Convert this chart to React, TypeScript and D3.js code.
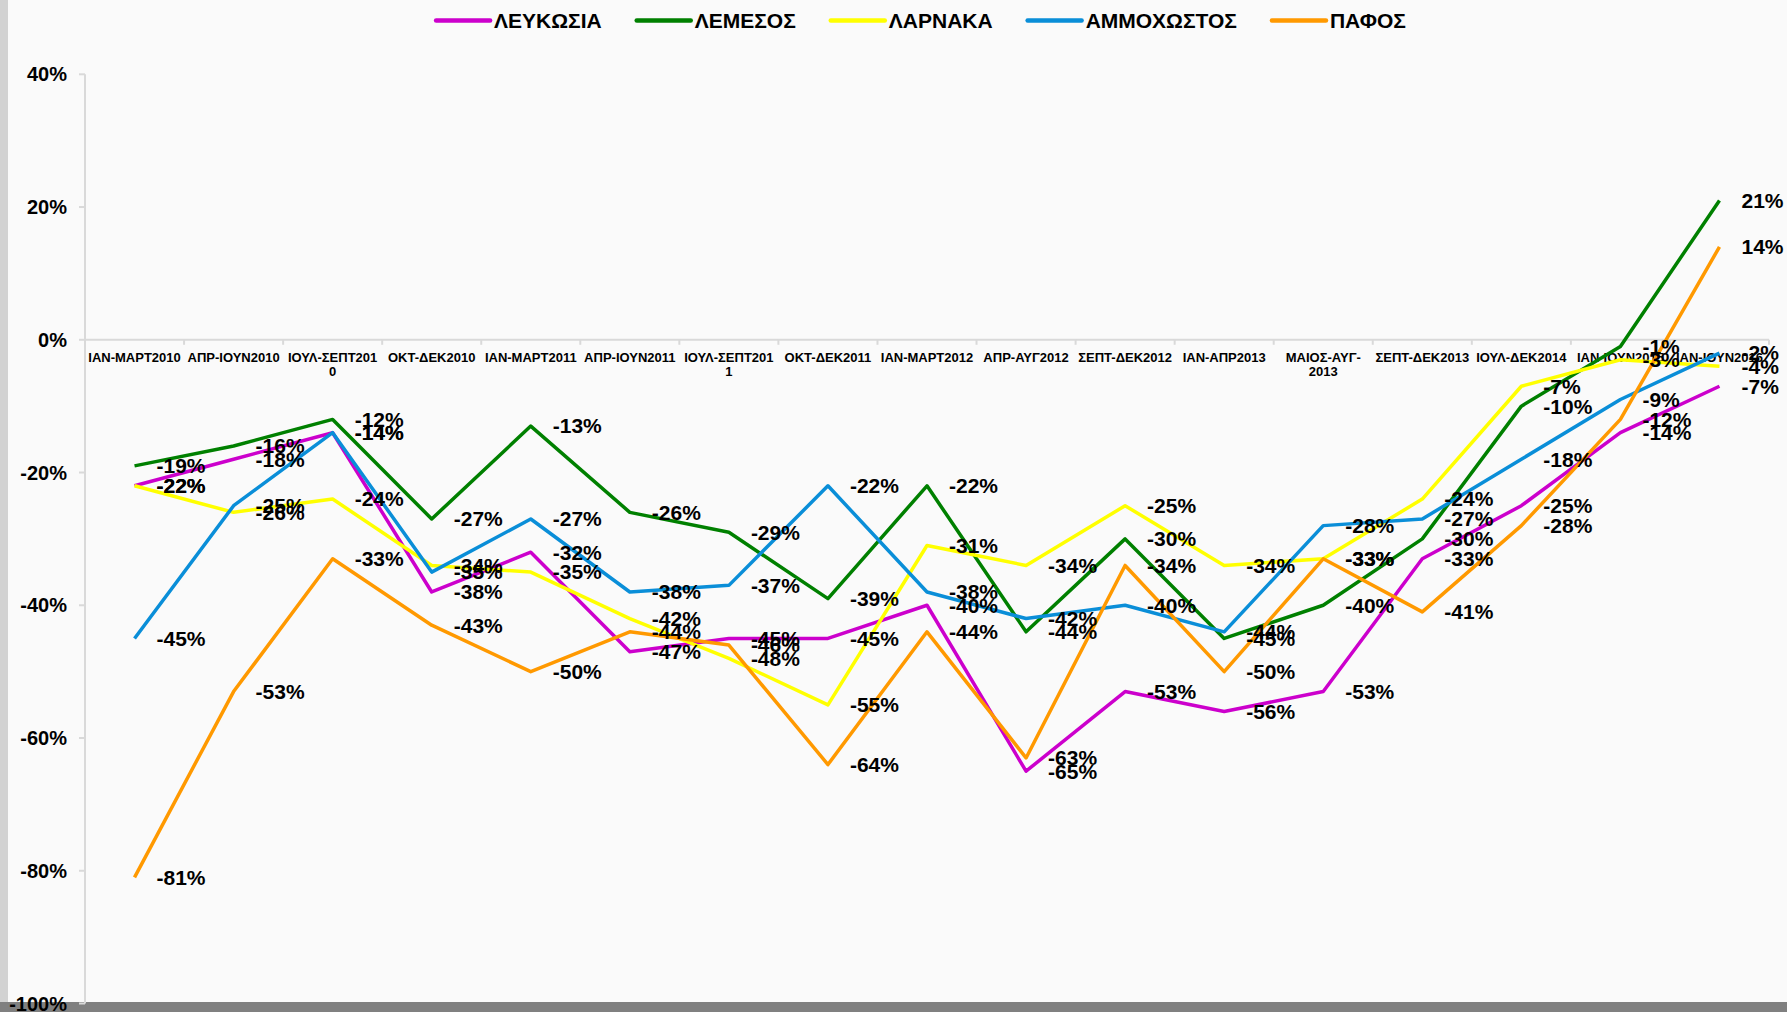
import React, { useEffect, useRef } from "react";
import * as d3 from "d3";

const categories = [
  "ΙΑΝ-ΜΑΡΤ2010", "ΑΠΡ-ΙΟΥΝ2010", "ΙΟΥΛ-ΣΕΠΤ2010", "ΟΚΤ-ΔΕΚ2010", "ΙΑΝ-ΜΑΡΤ2011",
  "ΑΠΡ-ΙΟΥΝ2011", "ΙΟΥΛ-ΣΕΠΤ2011", "ΟΚΤ-ΔΕΚ2011", "ΙΑΝ-ΜΑΡΤ2012", "ΑΠΡ-ΑΥΓ2012",
  "ΣΕΠΤ-ΔΕΚ2012", "ΙΑΝ-ΑΠΡ2013", "ΜΑΙΟΣ-ΑΥΓ-2013", "ΣΕΠΤ-ΔΕΚ2013", "ΙΟΥΛ-ΔΕΚ2014",
  "ΙΑΝ-ΙΟΥΝ2015", "ΙΑΝ-ΙΟΥΝ2016",
];
// where Excel wrapped the long category names (character index)
const wrapAt: Record<string, number> = { "ΙΟΥΛ-ΣΕΠΤ2010": 12, "ΙΟΥΛ-ΣΕΠΤ2011": 12, "ΜΑΙΟΣ-ΑΥΓ-2013": 10 };

const seriesNames = ["ΛΕΥΚΩΣΙΑ", "ΛΕΜΕΣΟΣ", "ΛΑΡΝΑΚΑ", "ΑΜΜΟΧΩΣΤΟΣ", "ΠΑΦΟΣ"];
const lefkosia = [-22, -18, -14, -38, -32, -47, -45, -45, -40, -65, -53, -56, -53, -33, -25, -14, -7];
const lemesos = [-19, -16, -12, -27, -13, -26, -29, -39, -22, -44, -30, -45, -40, -30, -10, -1, 21];
const larnaka = [-22, -26, -24, -34, -35, -42, -48, -55, -31, -34, -25, -34, -33, -24, -7, -3, -4];
const ammochostos = [-45, -25, -14, -35, -27, -38, -37, -22, -38, -42, -40, -44, -28, -27, -18, -9, -2];
const pafos = [-81, -53, -33, -43, -50, -44, -46, -64, -44, -63, -34, -50, -33, -41, -28, -12, 14];
const seriesValues = [lefkosia, lemesos, larnaka, ammochostos, pafos];
const seriesColors = ["#cc00cc", "#008000", "#ffff00", "#0a8ed8", "#ff9900"];
const yTicks = [40, 20, 0, -20, -40, -60, -80, -100];

const W = 1787, H = 1012;
const FONT = "'Liberation Sans', Arial, sans-serif";
const pct = (v: number) => d3.format(".0%")(v / 100).replace("\u2212", "-");

export default function App() {
  const ref = useRef<SVGSVGElement>(null);
  useEffect(() => {
    const svg = d3.select(ref.current);
    svg.selectAll("*").remove();

    svg.append("rect").attr("width", W).attr("height", H).attr("fill", "#fafafa");
    svg.append("rect").attr("x", 0).attr("y", 0).attr("width", 8).attr("height", H).attr("fill", "#d2d2d2");
    svg.append("rect").attr("x", 0).attr("y", 1002).attr("width", W).attr("height", 10).attr("fill", "#808080");

    const x = d3.scaleBand<string>().domain(categories).range([85, 1769]);
    const cx = (c: string) => (x(c) as number) + x.bandwidth() / 2;
    const y = d3.scaleLinear().domain([-100, 40]).range([1003.5, 74.3]);

    // y axis
    const axisColor = "#d9d9d9";
    svg.append("line").attr("x1", 85).attr("x2", 85).attr("y1", y(40)).attr("y2", y(-100))
      .attr("stroke", axisColor).attr("stroke-width", 2);
    const yt = svg.append("g");
    yTicks.forEach((t) => {
      yt.append("line").attr("x1", 79).attr("x2", 85).attr("y1", y(t)).attr("y2", y(t))
        .attr("stroke", axisColor).attr("stroke-width", 2);
      yt.append("text").attr("x", 67).attr("y", y(t)).attr("dy", "0.35em")
        .attr("text-anchor", "end").attr("font-family", FONT).attr("font-weight", "bold")
        .attr("font-size", 20).attr("fill", "#000").text(pct(t));
    });

    // category axis at 0
    svg.append("line").attr("x1", 85).attr("x2", 1769).attr("y1", y(0)).attr("y2", y(0))
      .attr("stroke", axisColor).attr("stroke-width", 2);
    categories.forEach((c) => {
      const bx = (x(c) as number) + x.bandwidth();
      svg.append("line").attr("x1", bx).attr("x2", bx).attr("y1", y(0)).attr("y2", y(0) + 5)
        .attr("stroke", axisColor).attr("stroke-width", 2);
      const lines = wrapAt[c] ? [c.slice(0, wrapAt[c]), c.slice(wrapAt[c])] : [c];
      const t = svg.append("text").attr("text-anchor", "middle").attr("font-family", FONT)
        .attr("font-weight", "bold").attr("font-size", 13).attr("fill", "#000");
      lines.forEach((l, k) => {
        t.append("tspan").attr("x", cx(c)).attr("y", 362 + k * 14).text(l);
      });
    });

    // lines
    const line = d3.line<number>().x((_, i) => cx(categories[i])).y((v) => y(v));
    seriesValues.forEach((vals, s) => {
      svg.append("path").attr("d", line(vals) as string).attr("fill", "none")
        .attr("stroke", seriesColors[s]).attr("stroke-width", 3.5).attr("stroke-linejoin", "round");
    });
    // data labels
    seriesValues.forEach((vals) => {
      vals.forEach((v, i) => {
        svg.append("text").attr("x", cx(categories[i]) + 22).attr("y", y(v)).attr("dy", "0.35em")
          .attr("font-family", FONT).attr("font-weight", "bold").attr("font-size", 21)
          .attr("fill", "#000").text(pct(v));
      });
    });

    // legend
    const lg = svg.append("g");
    let px = 0;
    seriesNames.forEach((n, s) => {
      const g = lg.append("g");
      g.append("line").attr("x1", 0).attr("x2", 54).attr("y1", 0).attr("y2", 0)
        .attr("stroke", seriesColors[s]).attr("stroke-width", 4.5).attr("stroke-linecap", "round");
      const t = g.append("text").attr("x", 58).attr("y", 0).attr("dy", "0.35em")
        .attr("font-family", FONT).attr("font-weight", "bold").attr("font-size", 21)
        .attr("fill", "#000").text(n);
      const tw = (t.node() as SVGTextElement).getComputedTextLength();
      g.attr("transform", `translate(${px},0)`);
      px += 58 + tw + 35;
    });
    const total = px - 35;
    lg.attr("transform", `translate(${921 - total / 2},20.5)`);
  }, []);
  return (
    <svg ref={ref} width={W} height={H}
      style={{ position: "absolute", left: 0, top: 0, display: "block" }} />
  );
}
